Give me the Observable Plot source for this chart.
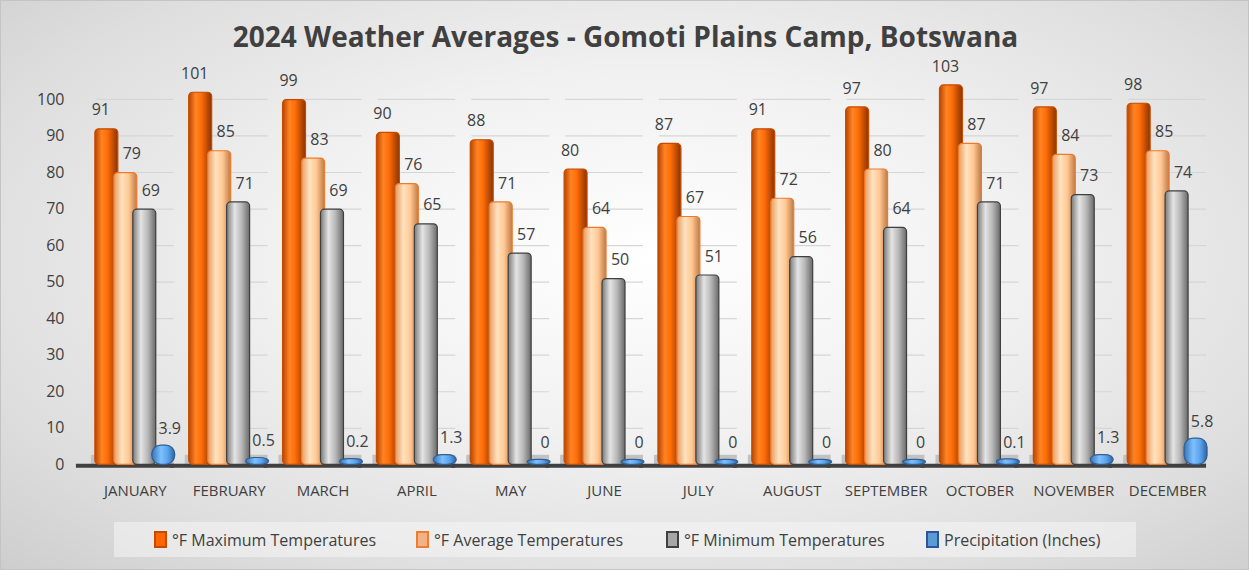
<!DOCTYPE html>
<html><head><meta charset="utf-8">
<script src="https://cdn.jsdelivr.net/npm/d3@7"></script>
<script src="https://cdn.jsdelivr.net/npm/@observablehq/plot@0.6"></script>
<style>
html,body{margin:0;padding:0;}
#wrap{position:relative;width:1249px;height:570px;overflow:hidden;box-sizing:border-box;border:1px solid #c4c4c4;
 background:radial-gradient(ellipse 75% 80% at 52% 45%, #ffffff 0%, #f1f1f1 40%, #dedede 75%, #cccccc 100%);font-family:"Open Sans",sans-serif;}
#title{position:absolute;top:16px;left:0;width:1249px;text-align:center;font-weight:bold;font-size:28px;color:#404040;}
#chart{position:absolute;top:50px;left:0;}
#legend{position:absolute;top:521px;left:113px;width:1022px;height:35px;background:rgba(245,245,245,0.55);}
.item{position:absolute;top:0;height:35px;display:flex;align-items:center;font-size:16px;color:#404040;white-space:nowrap;}
.sw{width:9px;height:13px;border:2px solid;margin-right:5px;}
</style></head>
<body><div id="wrap">
<div id="title">2024 Weather Averages - Gomoti Plains Camp, Botswana</div>
<div id="chart"></div>
<div id="legend"></div>
</div>
<script>
const months = ["JANUARY","FEBRUARY","MARCH","APRIL","MAY","JUNE","JULY","AUGUST","SEPTEMBER","OCTOBER","NOVEMBER","DECEMBER"];
const seriesNames = ["°F Maximum Temperatures","°F Average Temperatures","°F Minimum Temperatures","Precipitation (Inches)"];
const maxTemps = [91,101,99,90,88,80,87,91,97,103,97,98];
const avgTemps = [79,85,83,76,71,64,67,72,80,87,84,85];
const minTemps = [69,71,69,65,57,50,51,56,64,71,73,74];
const precip = [3.9,0.5,0.2,1.3,0,0,0,0,0,0.1,1.3,5.8];
const yTicks = [0,10,20,30,40,50,60,70,80,90,100];

const seriesValues = [maxTemps, avgTemps, minTemps, precip];
const gradIds = ["gmax","gavg","gmin","gpre"];
const strokes = ["#c44b00","#f07a2a","#3f3f3f","#2f5f95"];
const swatchFill = ["#ff6600","#f4b183","#a6a6a6","#5b9bd5"];
const swatchStroke = ["#c44b00","#ed7d31","#404040","#2f5597"];

const rows = [];
seriesNames.forEach((s, i) => months.forEach((m, j) => rows.push({month: m, series: s, value: seriesValues[i][j]})));

const gradStops = [
  [[0,"#b84500"],[0.3,"#ff8424"],[0.55,"#ff6d08"],[1,"#8c3300"]],
  [[0,"#e89a5e"],[0.35,"#ffe2bf"],[0.65,"#ffc893"],[1,"#c07a45"]],
  [[0,"#7a7a7a"],[0.35,"#e4e4e4"],[0.65,"#b8b8b8"],[1,"#6a6a6a"]],
  [[0,"#3573b5"],[0.4,"#7ec0ff"],[0.7,"#5aa3ea"],[1,"#2f64a0"]]
];

function defs() {
  const svg = d3.create("svg:defs");
  gradIds.forEach((id, i) => {
    const g = svg.append("linearGradient").attr("id", id).attr("x1", 0).attr("x2", 1).attr("y1", 0).attr("y2", 0);
    gradStops[i].forEach(([o, c]) => g.append("stop").attr("offset", o).attr("stop-color", c));
  });
  return svg.node();
}

const marks = [
  defs,
  Plot.gridY(yTicks, {stroke: "#d6d6d6", strokeOpacity: 1, strokeWidth: 1.2}),
  Plot.ruleY([0], {stroke: "#c2c2c2", strokeWidth: 10, dy: -5, insetLeft: -5}),
  Plot.ruleY([0], {stroke: "#404040", strokeWidth: 4, dy: 1, insetLeft: -20}),
  Plot.axisY(yTicks, {tickSize: 0, tickPadding: 32, fontSize: 16, fill: "#404040", label: null}),
  Plot.axisFx({anchor: "bottom", tickSize: 0, tickPadding: 21, fontSize: 15, fill: "#404040", label: null})
];
seriesNames.forEach((s, i) => {
  const d = rows.filter(r => r.series === s);
  marks.push(Plot.barY(d, {fx: "month", x: "series", y: "value", fill: `url(#${gradIds[i]})`, stroke: strokes[i], strokeWidth: 1.2,
    insetTop: i === 3 ? -5 : -3, rx: i === 3 ? 9 : 4, insetLeft: -2, insetRight: -2}));
  marks.push(Plot.text(d, {fx: "month", x: "series", y: "value", text: d => String(d.value), dy: -22, dx: i === 0 ? -6 : 6,
    fill: "#404040", fontSize: 16}));
});

const chart = Plot.plot({
  width: 1249, height: 470,
  marginTop: 48, marginBottom: 56, marginLeft: 93, marginRight: 40,
  style: {background: "transparent", fontFamily: "Open Sans, sans-serif", color: "#404040", overflow: "visible"},
  fx: {domain: months, padding: 0.17},
  x: {domain: seriesNames, padding: 0.02, axis: null},
  y: {domain: [0, 100]},
  marks
});
chart.style.overflow = "visible";
document.getElementById("chart").appendChild(chart);

const legendLefts = [153, 415, 665, 925];
const legend = document.getElementById("legend");
seriesNames.forEach((s, i) => {
  const it = document.createElement("div");
  it.className = "item";
  it.style.left = (legendLefts[i] - 113) + "px";
  it.innerHTML = `<span class="sw" style="background:${swatchFill[i]};border-color:${swatchStroke[i]}"></span>${s}`;
  legend.appendChild(it);
});
</script>
</body></html>
